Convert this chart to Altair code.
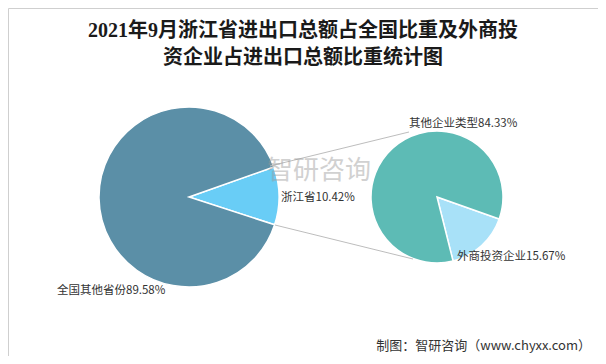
import math
import altair as alt
import pandas as pd

# ---------------- data ----------------
left_cats = ["浙江省", "全国其他省份"]
left_vals = [10.42, 89.58]
right_cats = ["外商投资企业", "其他企业类型"]
right_vals = [15.67, 84.33]
title_lines = ["2021年9月浙江省进出口总额占全国比重及外商投", "资企业占进出口总额比重统计图"]
source_text = "制图：智研咨询（www.chyxx.com）"
watermark_text = "智研咨询"

# ---------------- layout (page pixel coordinates) ----------------
W, H = 590, 348
X0, Y0 = 8, 8
left_center = (189, 197)
right_center = (437, 197)
left_r, right_r = 90, 66
left_start = math.radians(70.5)
right_start = math.radians(109.5)

xs = alt.Scale(domain=[X0, X0 + W], nice=False, zero=False)
ys = alt.Scale(domain=[Y0, Y0 + H], nice=False, zero=False, reverse=True)

color_scale = alt.Scale(
    domain=["浙江省", "全国其他省份", "外商投资企业", "其他企业类型"],
    range=["#69CDF6", "#5B8FA7", "#A8E1F8", "#5DBBB5"],
)

FONT = "Noto Sans CJK SC"


def pie(cats, vals, center, r, start):
    df = pd.DataFrame({
        "cat": cats, "val": vals, "ord": list(range(len(cats))),
        "cx": [center[0]] * len(cats), "cy": [center[1]] * len(cats),
    })
    return alt.Chart(df).mark_arc(outerRadius=r, stroke="white", strokeWidth=1.5).encode(
        x=alt.X("cx:Q", scale=xs, axis=None),
        y=alt.Y("cy:Q", scale=ys, axis=None),
        theta=alt.Theta("val:Q", stack=True,
                        scale=alt.Scale(range=[start, start + 2 * math.pi])),
        color=alt.Color("cat:N", scale=color_scale, legend=None),
        order=alt.Order("ord:Q"),
    )


left_pie = pie(left_cats, left_vals, left_center, left_r, left_start)
right_pie = pie(right_cats, right_vals, right_center, right_r, right_start)

# connector lines
conn = pd.DataFrame({
    "x": [270, 275], "y": [166, 225],
    "x2": [409, 413], "y2": [132, 259],
})
connectors = alt.Chart(conn).mark_rule(color="#BDBDBD", strokeWidth=1).encode(
    x=alt.X("x:Q", scale=xs, axis=None), y=alt.Y("y:Q", scale=ys, axis=None),
    x2="x2:Q", y2="y2:Q",
)

# watermark
wm = pd.DataFrame({"t": [watermark_text], "x": [319], "y": [171]})
watermark = alt.Chart(wm).mark_text(font=FONT, fontSize=26, color="#9a9a9a", opacity=0.45,
                                    align="center", baseline="middle").encode(
    x=alt.X("x:Q", scale=xs, axis=None), y=alt.Y("y:Q", scale=ys, axis=None),
    text="t:N",
)

# slice labels
lab = pd.DataFrame({
    "t": [f"{left_cats[0]}{left_vals[0]:.2f}%", f"{left_cats[1]}{left_vals[1]:.2f}%",
          f"{right_cats[0]}{right_vals[0]:.2f}%", f"{right_cats[1]}{right_vals[1]:.2f}%"],
    "x": [281, 57, 457, 409], "y": [198, 291, 257, 124],
})
labels = alt.Chart(lab).mark_text(font=FONT, fontSize=11.5, color="#333333",
                                  align="left", baseline="middle").encode(
    x=alt.X("x:Q", scale=xs, axis=None), y=alt.Y("y:Q", scale=ys, axis=None),
    text="t:N",
)

# title
tt = pd.DataFrame({"t": title_lines, "x": [303, 303], "y": [31, 58]})
title = alt.Chart(tt).mark_text(font="Liberation Serif, " + FONT, fontSize=20, fontWeight="bold",
                                color="#1a1a1a", align="center", baseline="middle").encode(
    x=alt.X("x:Q", scale=xs, axis=None), y=alt.Y("y:Q", scale=ys, axis=None),
    text="t:N",
)

# source
src = pd.DataFrame({"t": [source_text], "x": [591], "y": [346]})
source = alt.Chart(src).mark_text(font=FONT, fontSize=13, color="#333333",
                                  align="right", baseline="middle").encode(
    x=alt.X("x:Q", scale=xs, axis=None), y=alt.Y("y:Q", scale=ys, axis=None),
    text="t:N",
)

chart = alt.layer(
    left_pie, right_pie, connectors, watermark, labels, title, source
).resolve_scale(theta="independent").properties(
    width=W, height=H, padding=0, autosize=alt.AutoSizeParams(type="none"),
    background="white",
).configure_view(stroke="#CFCFCF", strokeWidth=1)

chart.save("out.html", embed_options={"renderer": "svg", "actions": False})
